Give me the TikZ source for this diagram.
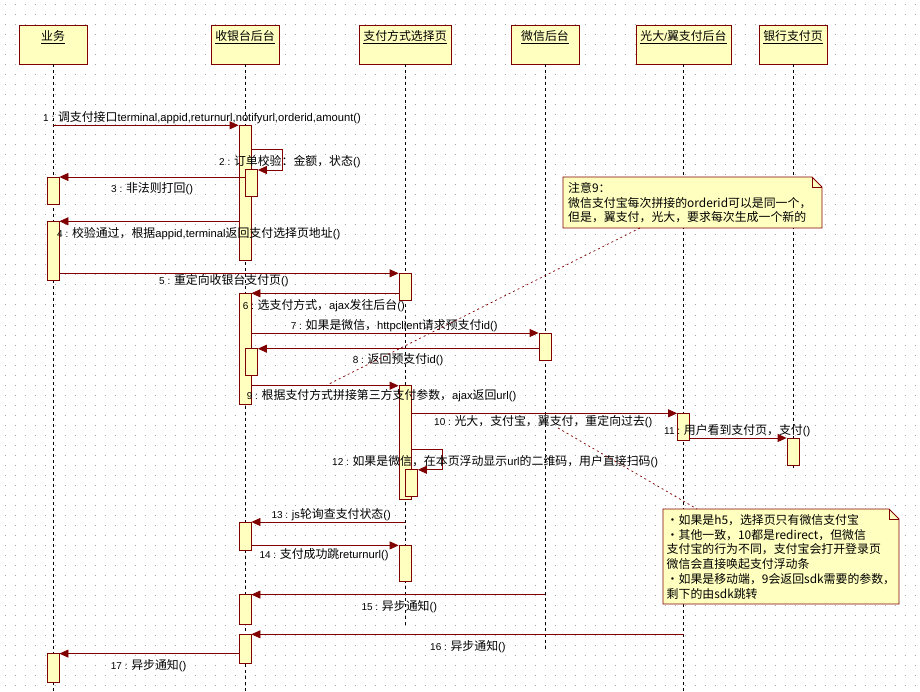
\documentclass[tikz,border=0pt]{standalone}
\usepackage{fontspec}
\setmainfont{Liberation Sans}
\newfontfamily\cjkf{Noto Sans CJK SC}
\usetikzlibrary{arrows.meta,fit}
\definecolor{dred}{RGB}{128,0,0}
\definecolor{byel}{RGB}{255,255,192}
\definecolor{gdot}{RGB}{165,165,165}
\newcommand\zh[1]{{\cjkf\fontsize{11.9}{14}\selectfont #1}}
\newcommand\nm[1]{{\fontsize{10}{12}\selectfont #1}}
\tikzset{
  box/.style={draw=dred, fill=byel, line width=0.8pt, inner sep=0pt},
  act/.style={box},
  life/.style={draw=black, line width=0.7pt, dash pattern=on 3pt off 3pt},
  msg/.style={draw=dred, line width=0.8pt, -{Triangle[length=9pt,width=8pt]}},
  lbl/.style={anchor=base west, inner sep=0pt, font=\fontsize{11.2}{13}\selectfont},
  ttl/.style={anchor=base, inner sep=0pt},
  notebox/.style={draw=dred, fill=byel, line width=0.8pt},
  notetxt/.style={anchor=north west, inner sep=0pt, align=left, font=\cjkf\fontsize{11.9}{14.8}\selectfont},
  notelink/.style={draw=dred, line width=0.7pt, dash pattern=on 2pt off 3pt},
}
\begin{document}
\begin{tikzpicture}[x=1pt,y=-1pt]
\useasboundingbox (0,0) rectangle (920,692);
\fill[white] (0,0) rectangle (920,692);
% dotted grid
\foreach \r in {0,...,68}{
  \draw[gdot, line width=1pt, dash pattern=on 1pt off 9pt] (4.5,{5+10*\r}) -- (920,{5+10*\r});
}
% headers
\node[box, fit={(19,25)(87,64)}] (H1) {};
\node[box, fit={(211,25)(279,64)}] (H2) {};
\node[box, fit={(359,25)(451,64)}] (H3) {};
\node[box, fit={(511,25)(579,64)}] (H4) {};
\node[box, fit={(636,25)(731,64)}] (H5) {};
\node[box, fit={(759,25)(827,64)}] (H6) {};
\node[ttl] (t1) at (H1.north |- 0,40.5) {\underline{\zh{业务}}};
\node[ttl] (t2) at (H2.north |- 0,40.5) {\underline{\zh{收银台后台}}};
\node[ttl] (t3) at (H3.north |- 0,40.5) {\underline{\zh{支付方式选择页}}};
\node[ttl] (t4) at (H4.north |- 0,40.5) {\underline{\zh{微信后台}}};
\node[ttl] (t5) at (H5.north |- 0,40.5) {\underline{\zh{光大}/\zh{翼支付后台}}};
\node[ttl] (t6) at (H6.north |- 0,40.5) {\underline{\zh{银行支付页}}};
% lifelines
\coordinate (e1) at (H1.south |- 0,692);
\coordinate (e2) at (H2.south |- 0,692);
\coordinate (e3) at (H3.south |- 0,625);
\coordinate (e4) at (H4.south |- 0,650);
\coordinate (e5) at (H5.south |- 0,692);
\coordinate (e6) at (H6.south |- 0,468);
\draw[life] (H1.south) -- (e1);
\draw[life] (H2.south) -- (e2);
\draw[life] (H3.south) -- (e3);
\draw[life] (H4.south) -- (e4);
\draw[life] (H5.south) -- (e5);
\draw[life] (H6.south) -- (e6);
% activations
\node[act, fit={(239,125.3)(251,260)}] (A1) {};
\node[act, fit={(245.5,169)(257.5,196.3)}] (A2) {};
\node[act, fit={(47,177)(59,204.3)}] (B1) {};
\node[act, fit={(47,221.3)(59,280)}] (B2) {};
\node[act, fit={(399,273.3)(411,300)}] (C1) {};
\node[act, fit={(239,293.3)(251,404)}] (A3) {};
\node[act, fit={(539,333)(551,360.3)}] (W1) {};
\node[act, fit={(245.5,348.7)(257.5,375.3)}] (A4) {};
\node[act, fit={(399,385.7)(411,499)}] (C2) {};
\node[act, fit={(677.5,413.3)(689.5,440)}] (G1) {};
\node[act, fit={(787,438)(799,465)}] (K1) {};
\node[act, fit={(405.5,469.3)(417.5,496)}] (C3) {};
\node[act, fit={(239,522)(251,550.7)}] (A5) {};
\node[act, fit={(399,545.4)(411,581.8)}] (C4) {};
\node[act, fit={(239,594.6)(251,624)}] (A6) {};
\node[act, fit={(239,634.3)(251,663.2)}] (A7) {};
\node[act, fit={(47,653.6)(59,682.5)}] (B3) {};
% messages
\coordinate (s1) at (H1.south |- 0,125.3);
\draw[msg] (s1) -- (A1.west |- s1);
\coordinate (p2a) at (282.7,149);
\coordinate (p2b) at (282.7,170);
\draw[msg] (A1.east |- p2a) -- (p2a) -- (p2b) -- (A2.east |- p2b);
\draw[msg] (A2.west |- 0,177) -- (B1.east |- 0,177);
\draw[msg] (A1.west |- 0,221.3) -- (B2.east |- 0,221.3);
\draw[msg] (B2.east |- 0,273.3) -- (C1.west |- 0,273.3);
\draw[msg] (C1.west |- 0,293.3) -- (A3.east |- 0,293.3);
\draw[msg] (A3.east |- 0,333) -- (W1.west |- 0,333);
\draw[msg] (W1.west |- 0,348.7) -- (A4.east |- 0,348.7);
\draw[msg] (A3.east |- 0,385.7) -- (C2.west |- 0,385.7);
\draw[msg] (C2.east |- 0,413.3) -- (G1.west |- 0,413.3);
\draw[msg] (G1.east |- 0,438) -- (K1.west |- 0,438);
\coordinate (p12a) at (442.7,449.3);
\coordinate (p12b) at (442.7,469.8);
\draw[msg] (C2.east |- p12a) -- (p12a) -- (p12b) -- (C3.east |- p12b);
\coordinate (s13) at (H3.south |- 0,522);
\draw[msg] (s13) -- (A5.east |- s13);
\draw[msg] (A5.east |- 0,545.4) -- (C4.west |- 0,545.4);
\coordinate (s15) at (H4.south |- 0,594.6);
\draw[msg] (s15) -- (A6.east |- s15);
\coordinate (s16) at (H5.south |- 0,634.3);
\draw[msg] (s16) -- (A7.east |- s16);
\draw[msg] (A7.west |- 0,653.6) -- (B3.east |- 0,653.6);
% labels
\node[lbl] (l1) at (43,121.5) {\nm{1 : }\zh{调支付接口}terminal,appid,returnurl,notifyurl,orderid,amount()};
\node[lbl] (l2) at (219,165.2) {\nm{2 : }\zh{订单校验：金额，状态}()};
\node[lbl] (l3) at (111,192.5) {\nm{3 : }\zh{非法则打回}()};
\node[lbl] (l4) at (57,237.2) {\nm{4 : }\zh{校验通过，根据}appid,terminal\zh{返回支付选择页地址}()};
\node[lbl] (l5) at (159,284.8) {\nm{5 : }\zh{重定向收银台支付页}()};
\node[lbl] (l6) at (242.7,309.5) {\nm{6 : }\zh{选支付方式，}ajax\zh{发往后台}()};
\node[lbl] (l7) at (290.7,329.2) {\nm{7 : }\zh{如果是微信，}httpclient\zh{请求预支付}id()};
\node[lbl] (l8) at (352.7,363.5) {\nm{8 : }\zh{返回预支付}id()};
\node[lbl] (l9) at (246.7,399.8) {\nm{9 : }\zh{根据支付方式拼接第三方支付参数，}ajax\zh{返回}url()};
\node[lbl] (l10) at (434,425.2) {\nm{10 : }\zh{光大，支付宝，翼支付，重定向过去}()};
\node[lbl] (l11) at (664,434.5) {\nm{11 : }\zh{用户看到支付页，支付}()};
\node[lbl] (l12) at (332,465.5) {\nm{12 : }\zh{如果是微信，在本页浮动显示}url\zh{的二维码，用户直接扫码}()};
\node[lbl] (l13) at (271.4,518.8) {\nm{13 : }js\zh{轮询查支付状态}()};
\node[lbl] (l14) at (259.3,558.1) {\nm{14 : }\zh{支付成功跳}returnurl()};
\node[lbl] (l15) at (361.4,610.9) {\nm{15 : }\zh{异步通知}()};
\node[lbl] (l16) at (430,650.9) {\nm{16 : }\zh{异步通知}()};
\node[lbl] (l17) at (110.7,669.5) {\nm{17 : }\zh{异步通知}()};
% note 1
\draw[notebox] (563,177) -- (812,177) -- (822,187) -- (822,228) -- (563,228) -- cycle;
\draw[dred, line width=0.8pt] (812,177) -- (812,187) -- (822,187);
\node[notetxt] (n1) at (568,182) {注意9：\\微信支付宝每次拼接的orderid可以是同一个，\\但是，翼支付，光大，要求每次生成一个新的};
\coordinate (n1a) at (640,228);
\coordinate (n1b) at (327,385);
\draw[notelink] (n1a) -- (n1b);
% note 2
\draw[notebox] (663,509) -- (889,509) -- (899,519) -- (899,604) -- (663,604) -- cycle;
\draw[dred, line width=0.8pt] (889,509) -- (889,519) -- (899,519);
\node[notetxt] (n2) at (666.5,514) {·如果是h5，选择页只有微信支付宝\\·其他一致，10都是redirect，但微信\\支付宝的行为不同，支付宝会打开登录页\\微信会直接唤起支付浮动条\\·如果是移动端，9会返回sdk需要的参数，\\剩下的由sdk跳转};
\coordinate (n2a) at (697,509);
\coordinate (n2b) at (558,428);
\draw[notelink] (n2b) -- (n2a);
\end{tikzpicture}
\end{document}
